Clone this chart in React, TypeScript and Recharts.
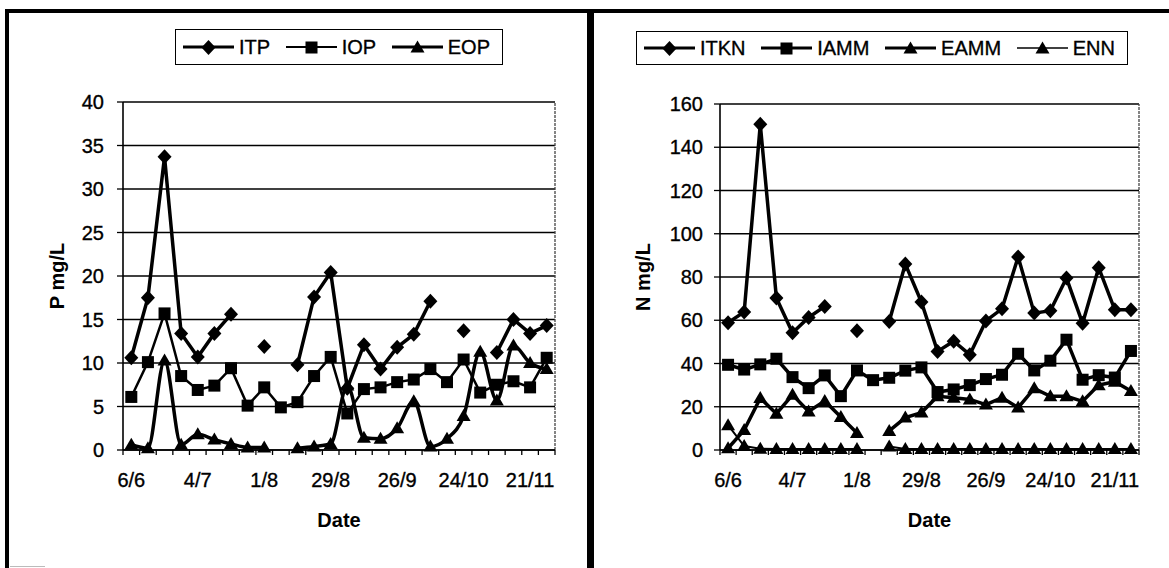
import React from 'react';
import { LineChart, Line, XAxis, YAxis, CartesianGrid, Legend, ReferenceLine } from 'recharts';

// ---------- data ----------
const dates = ['6/6', '13/6', '20/6', '27/6', '4/7', '11/7', '18/7', '25/7', '1/8', '8/8', '15/8', '22/8', '29/8',
  '5/9', '12/9', '19/9', '26/9', '3/10', '10/10', '17/10', '24/10', '31/10', '7/11', '14/11', '21/11', '28/11'];
const labelEvery = 4;

const itp = [10.6, 17.5, 33.7, 13.4, 10.7, 13.4, 15.6, null, 11.9, null, 9.8, 17.6, 20.4, 7.1, 12.1, 9.3, 11.8, 13.3, 17.1, null, 13.7, null, 11.2, 15.0, 13.4, 14.3];
const iop = [6.1, 10.1, 15.7, 8.5, 6.9, 7.4, 9.4, 5.1, 7.2, 4.9, 5.5, 8.5, 10.7, 4.2, 7.0, 7.2, 7.8, 8.1, 9.3, 7.8, 10.4, 6.6, 7.5, 7.9, 7.2, 10.6];
const eop = [0.6, 0.2, 10.3, 0.6, 1.8, 1.2, 0.7, 0.3, 0.3, null, 0.2, 0.4, 0.7, 7.4, 1.4, 1.3, 2.5, 5.6, 0.4, 1.3, 3.9, 11.3, 5.7, 12.0, 10.0, 9.3];
const pTicks = [0, 5, 10, 15, 20, 25, 30, 35, 40];

const itkn = [58.9, 63.8, 150.6, 70.3, 54.2, 61.3, 66.4, null, 55.2, null, 59.4, 86.0, 68.4, 45.6, 50.3, 44.1, 59.7, 65.3, 89.3, 63.3, 64.4, 79.5, 58.6, 84.3, 64.8, 64.8];
const iamm = [39.4, 37.2, 39.6, 42.2, 33.7, 28.6, 34.5, 24.9, 36.8, 32.3, 33.4, 36.7, 38.2, 26.8, 28.0, 30.0, 32.8, 34.8, 44.5, 36.8, 41.3, 51.0, 32.5, 34.6, 33.5, 45.8];
const eamm = [0.8, 9.2, 24.0, 16.8, 25.5, 17.8, 22.7, 15.3, 7.9, null, 8.8, 15.0, 17.3, 24.8, 24.2, 23.4, 21.0, 24.2, 19.6, 28.5, 24.8, 24.8, 22.5, 30.0, 31.6, 27.3];
const enn = [11.5, 1.8, 0.6, 0.5, 0.5, 0.5, 0.5, 0.5, 0.5, null, 1.6, 0.5, 0.5, 0.5, 0.5, 0.5, 0.5, 0.5, 0.5, 0.5, 0.5, 0.5, 0.5, 0.5, 0.5, 0.5];
const nTicks = [0, 20, 40, 60, 80, 100, 120, 140, 160];

// ---------- series styling ----------
type Shape = 'diamond' | 'square' | 'triangle';
type Series = { key: string; values: (number | null)[]; shape: Shape; width: number; curve: 'linear' | 'monotone' };

const leftSeries: Series[] = [
  { key: 'ITP', values: itp, shape: 'diamond', width: 3.5, curve: 'linear' },
  { key: 'IOP', values: iop, shape: 'square', width: 2.5, curve: 'linear' },
  { key: 'EOP', values: eop, shape: 'triangle', width: 3.5, curve: 'monotone' },
];
const rightSeries: Series[] = [
  { key: 'ITKN', values: itkn, shape: 'diamond', width: 3.5, curve: 'linear' },
  { key: 'IAMM', values: iamm, shape: 'square', width: 3.5, curve: 'linear' },
  { key: 'EAMM', values: eamm, shape: 'triangle', width: 3.5, curve: 'linear' },
  { key: 'ENN', values: enn, shape: 'triangle', width: 2, curve: 'linear' },
];

const FONT = '"Liberation Sans", Arial, Helvetica, sans-serif';
const TICK_FS = 20;
const TEXT_STROKE = 0.35;

function buildData(series: Series[]) {
  return dates.map((d, i) => {
    const row: Record<string, any> = { x: i + 0.5, date: d };
    series.forEach((s) => { row[s.key] = s.values[i]; });
    return row;
  });
}

const boundaryTicks = dates.map((_, i) => i).concat(dates.length);
const labelTicks = dates.map((_, i) => i).filter((i) => i % labelEvery === 0).map((i) => i + 0.5);
const xTicks = [...boundaryTicks, ...labelTicks].sort((a, b) => a - b);

function Marker({ cx, cy, shape }: { cx: number; cy: number; shape: Shape }) {
  if (shape === 'diamond') {
    return <polygon points={`${cx},${cy - 7.5} ${cx + 7},${cy} ${cx},${cy + 7.5} ${cx - 7},${cy}`} fill="#000" />;
  }
  if (shape === 'square') {
    return <rect x={cx - 6} y={cy - 6} width={12} height={12} fill="#000" />;
  }
  return <polygon points={`${cx},${cy - 7} ${cx + 7},${cy + 5} ${cx - 7},${cy + 5}`} fill="#000" />;
}

const makeDot = (shape: Shape) => (props: any) => {
  const { cx, cy, index, value } = props;
  const k = `dot-${shape}-${index}`;
  if (value == null || !Number.isFinite(cx) || !Number.isFinite(cy)) return <g key={k} />;
  return (
    <g key={k}>
      <Marker cx={cx} cy={cy} shape={shape} />
    </g>
  );
};

const XTick = (props: any) => {
  const { x, y, payload } = props;
  const v = payload.value;
  if (Number.isInteger(v)) {
    return <line x1={x} x2={x} y1={y} y2={y + 5} stroke="#000" strokeWidth={1.3} />;
  }
  return (
    <text x={x} y={y + 37} textAnchor="middle" fontSize={TICK_FS} fontFamily={FONT} fill="#000" stroke="#000" strokeWidth={TEXT_STROKE}>
      {dates[Math.floor(v)]}
    </text>
  );
};

function LegendBox({ series }: { series: Series[] }) {
  return (
    <div
      style={{
        boxSizing: 'border-box', width: '100%', height: '100%', border: '1px solid #000', background: '#fff',
        display: 'flex', alignItems: 'center', justifyContent: 'space-between', padding: '0 12px 0 7px',
        fontFamily: FONT, fontSize: 20, color: '#000', WebkitTextStroke: `${TEXT_STROKE}px #000`,
      }}
    >
      {series.map((s) => (
        <div key={s.key} style={{ display: 'flex', alignItems: 'center' }}>
          <svg width={51} height={18} style={{ display: 'block' }}>
            <line x1={0} x2={51} y1={9} y2={9} stroke="#000" strokeWidth={s.width - 0.5} />
            <Marker cx={25.5} cy={9.5} shape={s.shape} />
          </svg>
          <span style={{ marginLeft: 5, lineHeight: 1 }}>{s.key}</span>
        </div>
      ))}
    </div>
  );
}

type PanelProps = {
  series: Series[];
  yTicks: number[];
  yLabel: string;
  width: number;
  height: number;
  margin: { top: number; right: number; bottom: number; left: number };
  yAxisWidth: number;
  yLabelX: number;
  tickMargin: number;
  legendStyle: React.CSSProperties;
};

function Panel(p: PanelProps) {
  const data = buildData(p.series);
  const yMax = p.yTicks[p.yTicks.length - 1];
  return (
    <LineChart width={p.width} height={p.height} data={data} margin={p.margin}>
      <CartesianGrid vertical={false} stroke="#000" strokeWidth={1.3} />
      <XAxis
        type="number"
        dataKey="x"
        domain={[0, dates.length]}
        ticks={xTicks}
        interval={0}
        tickSize={0}
        tickMargin={0}
        tickLine={false}
        tick={(t: any) => <XTick {...t} />}
        axisLine={{ stroke: '#000', strokeWidth: 1.6 }}
        height={90}
        label={{
          content: (lp: any) => {
            const vb = lp.viewBox;
            return (
              <text x={vb.x + vb.width / 2} y={vb.y + 77} textAnchor="middle" fontFamily={FONT} fontWeight="bold" fontSize={20} fill="#000">
                Date
              </text>
            );
          },
        }}
      />
      <YAxis
        type="number"
        domain={[0, yMax]}
        ticks={p.yTicks}
        interval={0}
        width={p.yAxisWidth}
        tickSize={6}
        tickMargin={p.tickMargin}
        tick={{ fontSize: TICK_FS, fontFamily: FONT, fill: '#000', stroke: '#000', strokeWidth: TEXT_STROKE }}
        tickLine={{ stroke: '#000', strokeWidth: 1.3 }}
        axisLine={{ stroke: '#000', strokeWidth: 1.6 }}
        label={{
          content: (lp: any) => {
            const vb = lp.viewBox;
            const cx = vb.x + p.yLabelX;
            const cy = vb.y + vb.height / 2;
            return (
              <text x={cx} y={cy} transform={`rotate(-90, ${cx}, ${cy})`} textAnchor="middle" fontFamily={FONT} fontWeight="bold" fontSize={20} fill="#000">
                {p.yLabel}
              </text>
            );
          },
        }}
      />
      <ReferenceLine x={dates.length} stroke="#444" strokeWidth={1.3} strokeDasharray="3 1" />
      <Legend
        verticalAlign="middle"
        align="center"
        layout="horizontal"
        wrapperStyle={p.legendStyle}
        content={() => <LegendBox series={p.series} />}
      />
      {p.series.map((s) => (
        <Line
          key={s.key}
          dataKey={s.key}
          type={s.curve}
          stroke="#000"
          strokeWidth={s.width}
          dot={makeDot(s.shape)}
          activeDot={false}
          connectNulls={false}
          isAnimationActive={false}
        />
      ))}
    </LineChart>
  );
}

export default function App() {
  return (
    <div style={{ position: 'absolute', left: 0, top: 0, width: 1169, height: 568, background: '#fff', overflow: 'hidden' }}>
      <div style={{ position: 'absolute', left: 0, top: 0 }}>
        <Panel
          series={leftSeries}
          yTicks={pTicks}
          yLabel="P mg/L"
          width={590}
          height={568}
          margin={{ top: 102, right: 35, bottom: 28, left: 0 }}
          yAxisWidth={123}
          yLabelX={64}
          tickMargin={13}
          legendStyle={{ left: 175, top: 29, width: 328, height: 36 }}
        />
      </div>
      <div style={{ position: 'absolute', left: 590, top: 0 }}>
        <Panel
          series={rightSeries}
          yTicks={nTicks}
          yLabel="N mg/L"
          width={579}
          height={568}
          margin={{ top: 104, right: 30, bottom: 28, left: 0 }}
          yAxisWidth={130}
          yLabelX={60}
          tickMargin={11}
          legendStyle={{ left: 46, top: 31, width: 492, height: 34 }}
        />
      </div>
      {/* frame */}
      <div style={{ position: 'absolute', left: 5, top: 9, width: 1164, height: 4, background: '#000' }} />
      <div style={{ position: 'absolute', left: 5, top: 9, width: 4, height: 559, background: '#000' }} />
      <div style={{ position: 'absolute', left: 587, top: 9, width: 7, height: 559, background: '#000' }} />
      <div style={{ position: 'absolute', left: 10, top: 566, width: 35, height: 1, background: '#bbb' }} />
    </div>
  );
}
